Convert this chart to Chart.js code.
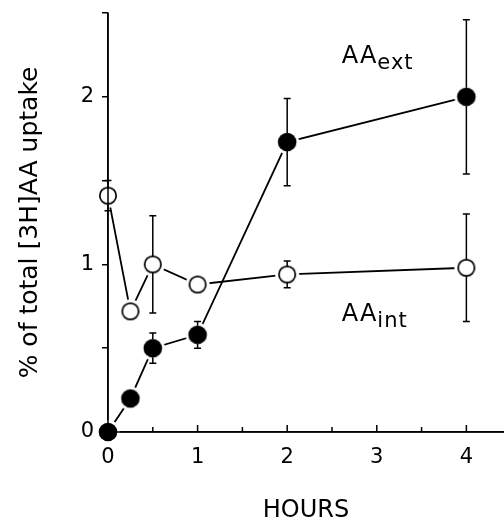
<!DOCTYPE html>
<html>
<head>
<meta charset="utf-8">
<script src="https://cdn.jsdelivr.net/npm/chart.js@4/dist/chart.umd.min.js"></script>
<style>
  html, body { margin: 0; padding: 0; background: #fff; }
  #wrap { width: 504px; height: 522px; }
</style>
</head>
<body>
<div id="wrap"><canvas id="myChart" width="504" height="522"></canvas></div>
<script>
// time points (hours)
var hours = [0, 0.25, 0.5, 1, 2, 4];
// AA ext (filled circles)
var aaExt = [0, 0.2, 0.5, 0.58, 1.73, 2.0];
var aaExtErr = [0, 0, 0.09, 0.08, 0.26, 0.46];
// AA int (open circles)
var aaInt = [1.41, 0.72, 1.0, 0.88, 0.94, 0.98];
var aaIntErr = [0.09, 0, 0.29, 0, 0.08, 0.32];

var xLabels = [0, 1, 2, 3, 4];
var yLabels = [0, 1, 2];

var FONT = "'DejaVu Sans', sans-serif";

var toPoints = function (ys) {
    return hours.map(function (h, i) { return { x: h, y: ys[i] }; });
};

// marker images: white halo so the lines stop short of the circles
var makeMarker = function (filled) {
    var c = document.createElement('canvas');
    c.width = 26; c.height = 26;
    var g = c.getContext('2d');
    g.fillStyle = '#fff';
    g.beginPath(); g.arc(13, 13, 12, 0, 2 * Math.PI); g.fill();
    g.beginPath(); g.arc(13, 13, filled ? 9.3 : 8.2, 0, 2 * Math.PI);
    if (filled) {
        g.fillStyle = '#000'; g.fill();
    } else {
        g.lineWidth = 1.7; g.strokeStyle = '#000'; g.stroke();
    }
    return c;
};

var extras = {
    id: 'extras',
    afterDatasetsDraw: function (chart) {
        var ctx = chart.ctx, xs = chart.scales.x, ys = chart.scales.y;
        var area = chart.chartArea;
        ctx.save();
        ctx.strokeStyle = '#000';
        ctx.lineWidth = 1.5;

        // axis lines back on top of the markers
        ctx.beginPath();
        ctx.moveTo(area.left, area.top); ctx.lineTo(area.left, area.bottom);
        ctx.lineTo(area.right, area.bottom);
        ctx.stroke();

        // x ticks point up into the plot
        xs.ticks.forEach(function (t) {
            var px = xs.getPixelForValue(t.value);
            var len = Number.isInteger(t.value) ? 7 : 5;
            ctx.beginPath();
            ctx.moveTo(px, area.bottom); ctx.lineTo(px, area.bottom - len);
            ctx.stroke();
        });

        // error bars from marker edge outward
        var bars = function (vals, errs, r) {
            hours.forEach(function (h, i) {
                if (!errs[i]) return;
                var px = xs.getPixelForValue(h);
                var py = ys.getPixelForValue(vals[i]);
                var top = ys.getPixelForValue(vals[i] + errs[i]);
                var bot = ys.getPixelForValue(vals[i] - errs[i]);
                ctx.beginPath();
                if (py - r > top) {
                    ctx.moveTo(px, py - r); ctx.lineTo(px, top);
                    ctx.moveTo(px - 3.5, top); ctx.lineTo(px + 3.5, top);
                }
                if (py + r < bot) {
                    ctx.moveTo(px, py + r); ctx.lineTo(px, bot);
                    ctx.moveTo(px - 3.5, bot); ctx.lineTo(px + 3.5, bot);
                }
                ctx.stroke();
            });
        };
        bars(aaExt, aaExtErr, 9);
        bars(aaInt, aaIntErr, 8);

        // curve labels
        ctx.fillStyle = '#000';
        ctx.textBaseline = 'alphabetic';
        ctx.letterSpacing = '1px';
        var label = function (big, small, hx, vy) {
            var px = xs.getPixelForValue(hx), py = ys.getPixelForValue(vy);
            ctx.font = '24px ' + FONT;
            ctx.fillText(big, px, py);
            var w = ctx.measureText(big).width;
            ctx.font = '21px ' + FONT;
            ctx.fillText(small, px + w, py + 6);
        };
        label('AA', 'ext', 2.61, 2.2);
        label('AA', 'int', 2.61, 0.66);
        ctx.restore();
    }
};

var ctx = document.getElementById('myChart');
var myChart = new Chart(ctx, {
    type: 'line',
    data: {
        datasets: [
            {
                label: 'AAext',
                data: toPoints(aaExt),
                borderColor: '#000',
                borderWidth: 1.8,
                pointStyle: makeMarker(true),
                pointRadius: 9,
                clip: false
            },
            {
                label: 'AAint',
                data: toPoints(aaInt),
                borderColor: '#000',
                borderWidth: 1.8,
                pointStyle: makeMarker(false),
                pointRadius: 9,
                clip: false
            }
        ]
    },
    options: {
        responsive: false,
        animation: false,
        layout: { autoPadding: false, padding: { top: 13, right: 0, bottom: 0, left: 0 } },
        plugins: { legend: { display: false }, tooltip: { enabled: false } },
        scales: {
            x: {
                type: 'linear',
                min: 0,
                max: 4.42,
                afterFit: function (s) {
                    s.height = 90;
                    s.paddingLeft = 0; s.paddingRight = 0;
                },
                grid: { display: false },
                border: { display: true, color: '#000', width: 1.5 },
                ticks: {
                    stepSize: 0.5,
                    includeBounds: false,
                    padding: 5,
                    color: '#000',
                    font: { family: FONT, size: 21 },
                    maxRotation: 0,
                    autoSkip: false,
                    callback: function (v) { return xLabels.indexOf(v) >= 0 ? String(v) : ''; }
                },
                title: {
                    display: true,
                    text: 'HOURS',
                    color: '#000',
                    font: { family: FONT, size: 24 },
                    padding: { top: 0, bottom: -3 }
                }
            },
            y: {
                min: 0,
                max: 2.5,
                afterFit: function (s) {
                    s.width = 108;
                    s.paddingTop = 0; s.paddingBottom = 0;
                },
                grid: { display: true, drawOnChartArea: false, drawTicks: true, tickLength: 6, color: '#000', lineWidth: 1.5 },
                border: { display: true, color: '#000', width: 1.5 },
                ticks: {
                    stepSize: 0.5,
                    padding: 8,
                    color: '#000',
                    font: { family: FONT, size: 21 },
                    callback: function (v) { return yLabels.indexOf(v) >= 0 ? String(v) : ''; }
                },
                title: {
                    display: true,
                    text: '% of total [3H]AA uptake',
                    color: '#000',
                    font: { family: FONT, size: 25 },
                    padding: { top: 15, bottom: 0 }
                }
            }
        }
    },
    plugins: [extras]
});
</script>
</body>
</html>
